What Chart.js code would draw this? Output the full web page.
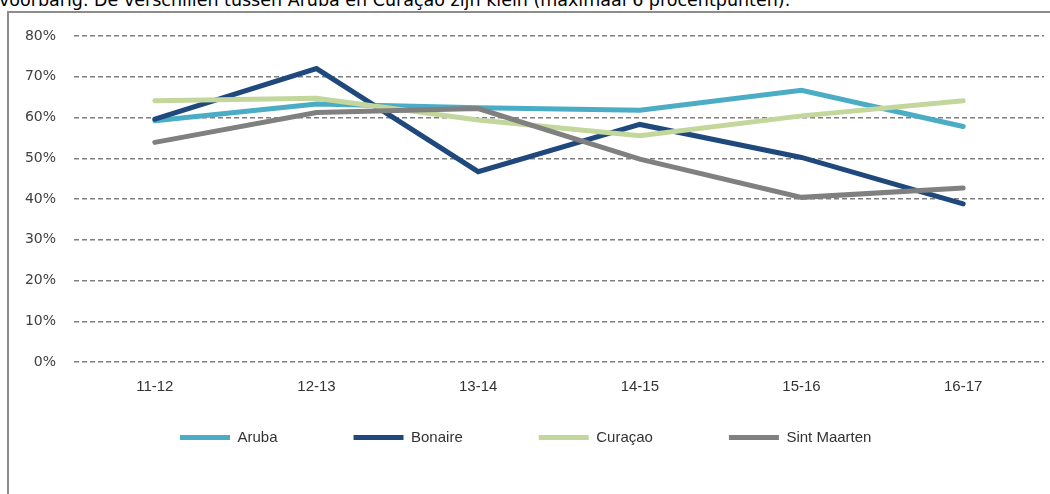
<!DOCTYPE html>
<html>
<head>
<meta charset="utf-8">
<script src="https://cdn.jsdelivr.net/npm/chart.js@4"></script>
<style>
  html, body { margin: 0; padding: 0; background: #fff; }
  body { width: 1050px; height: 494px; position: relative; overflow: hidden; }
  #intro {
    position: absolute; left: -1px; top: -8px; white-space: nowrap;
    font: 17.5px/17.5px "DejaVu Sans", sans-serif; color: #000;
  }
  #frame {
    position: absolute; left: 7px; top: 11px; width: 1100px; height: 600px;
    border-left: 2px solid #8c8c8c; border-top: 2px solid #8c8c8c;
  }
  #chart { position: absolute; left: 0; top: 0; }
</style>
</head>
<body>
<div id="intro">voorbarig. De verschillen tussen Aruba en Curaçao zijn klein (maximaal 6 procentpunten).</div>
<div id="frame"></div>
<canvas id="chart" width="1050" height="494"></canvas>
<script>
// ---- data (percentages) ----
const years = ["11-12", "12-13", "13-14", "14-15", "15-16", "16-17"];
const aruba = [59.2, 63.3, 62.4, 61.8, 66.7, 57.8];
const bonaire = [59.6, 72.0, 46.7, 58.3, 50.2, 38.8];
const curacao = [64.1, 64.7, 59.4, 55.5, 60.4, 64.1];
const sintMaarten = [53.9, 61.2, 62.2, 49.8, 40.4, 42.7];
const yTicks = [0, 10, 20, 30, 40, 50, 60, 70, 80];

const COLORS = {
  aruba: "#4bacc6",
  bonaire: "#1f497d",
  curacao: "#c3d69b",
  sintMaarten: "#808080",
};

const line = (label, data, color, order) => ({
  label,
  data,
  borderColor: color,
  backgroundColor: color,
  borderWidth: 5,
  borderCapStyle: "round",
  borderJoinStyle: "miter",
  pointRadius: 0,
  pointHoverRadius: 0,
  tension: 0,
  fill: false,
  order,
});

// place the legend where the original sits (left of centre)
const legendSpot = {
  id: "legendSpot",
  afterLayout(chart) {
    const lg = chart.legend;
    if (!lg) return;
    const pad = lg.options.labels.padding;
    lg.left = 180 - pad;
    lg.top = 430 - pad;
  },
};

new Chart(document.getElementById("chart").getContext("2d"), {
  type: "line",
  data: {
    labels: years,
    datasets: [
      line("Aruba", aruba, COLORS.aruba, 4),
      line("Bonaire", bonaire, COLORS.bonaire, 3),
      line("Curaçao", curacao, COLORS.curacao, 2),
      line("Sint Maarten", sintMaarten, COLORS.sintMaarten, 1),
    ],
  },
  options: {
    responsive: false,
    animation: false,
    layout: { padding: { top: 36, right: 6, bottom: 2, left: 0 } },
    scales: {
      x: {
        offset: true,
        grid: { display: false, drawTicks: false },
        border: { display: false },
        ticks: {
          padding: 16,
          color: "#333",
          font: { family: "'Liberation Sans', sans-serif", size: 15 },
        },
        afterFit: (s) => { s.height = 29; },
      },
      y: {
        min: 0,
        max: 80,
        afterBuildTicks: (s) => { s.ticks = yTicks.map((v) => ({ value: v })); },
        grid: { color: "#7f7f7f", lineWidth: 1.5, drawTicks: false },
        border: { display: false, dash: [5, 3] },
        ticks: {
          padding: 18,
          color: "#404040",
          font: { family: "'DejaVu Sans', sans-serif", size: 14 },
          callback: (v) => v + "%",
        },
        afterFit: (s) => { s.width = 74; },
      },
    },
    plugins: {
      legend: {
        position: "bottom",
        align: "start",
        labels: {
          usePointStyle: true,
          pointStyle: "line",
          pointStyleWidth: 50,
          padding: 76,
          color: "#333",
          font: { family: "'Liberation Sans', sans-serif", size: 15 },
          sort: (a, b) => a.datasetIndex - b.datasetIndex,
        },
      },
      tooltip: { enabled: false },
    },
  },
  plugins: [legendSpot],
});
</script>
</body>
</html>
